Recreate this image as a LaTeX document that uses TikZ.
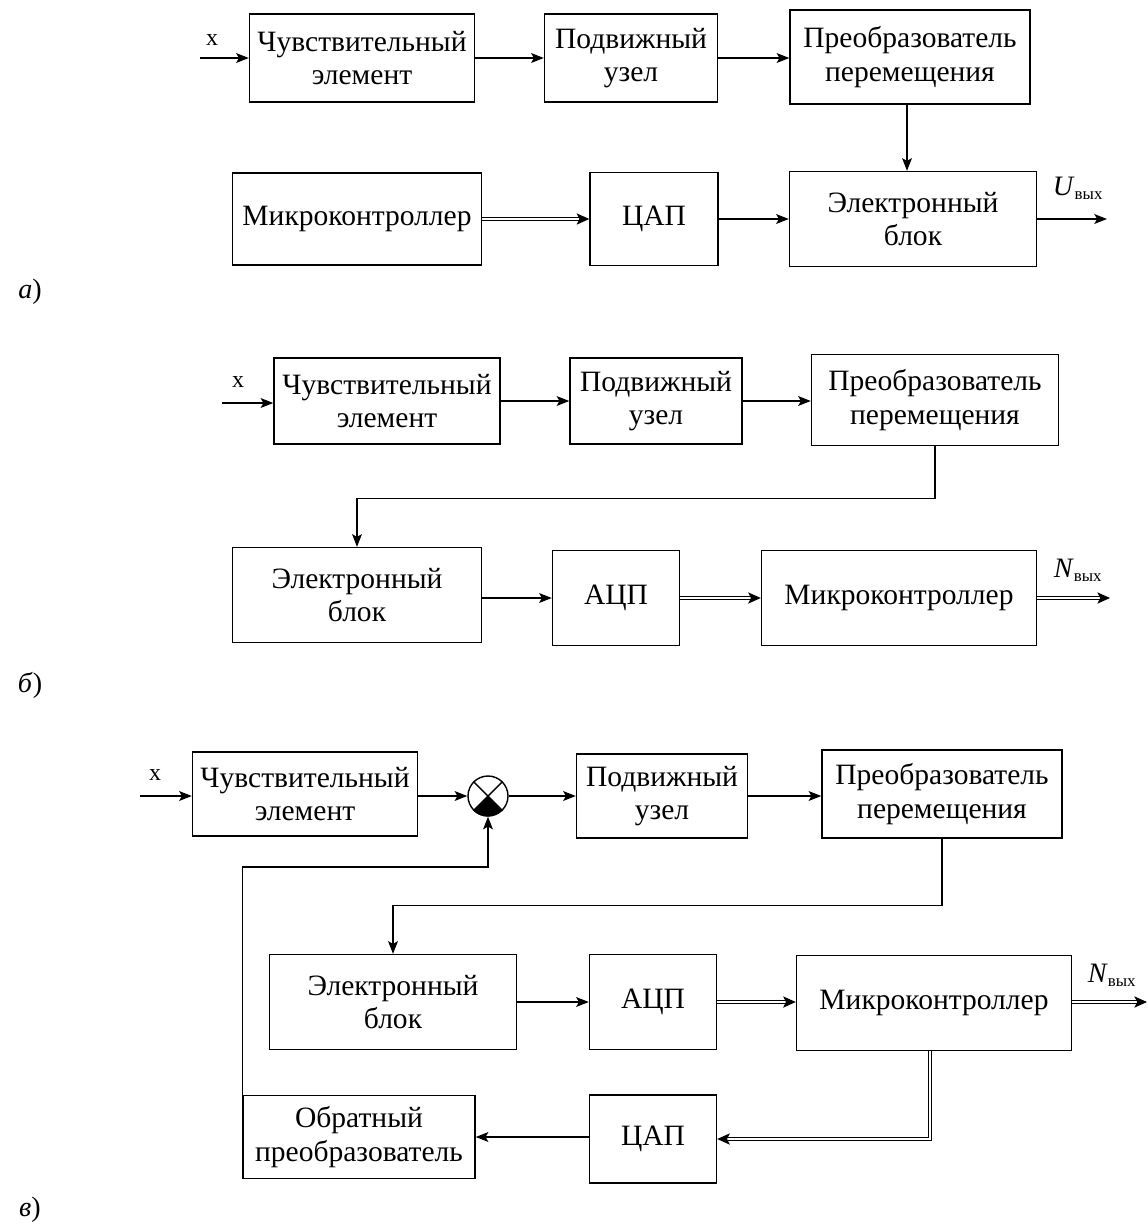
\documentclass[tikz,border=0pt]{standalone}
\usepackage{fontspec}
\setmainfont{Liberation Serif}
\usepackage{tikz}
\usetikzlibrary{arrows.meta}

\begin{document}
\begin{tikzpicture}[
        x=0.025cm, y=-0.025cm,
        blk/.style={draw, line width=1pt, align=center, inner sep=0pt, font=\fontsize{21}{24}\selectfont}, % block
        sz/.style 2 args={minimum width=#1*0.025cm, minimum height=#2*0.025cm}, % block size in px
        sig/.style={line width=1pt, -{Stealth[length=9pt, width=7pt, inset=2pt]}}, % single line
        dsig/.style={double, double distance=1.6pt, line width=0.8pt, -{Stealth[length=9pt, width=8pt, inset=2pt]}}, % double line
        lbl/.style={font=\fontsize{20}{24}\selectfont}
        ]
    \useasboundingbox (0,0) rectangle (1147,1225);
    \newcommand{\vyh}{\textsubscript{\fontsize{12}{12}\selectfont вых}}

    % a)
    \node[blk, sz={225}{88}] (a1) at (362,58) {Чувствительный\\элемент};
    \node[blk, sz={173}{88}] (a2) at (631,58) {Подвижный\\узел};
    \node[blk, sz={240}{94}] (a3) at (910,57) {Преобразователь\\перемещения};
    \node[blk, sz={249}{92}] (a4) at (357,219) {Микроконтроллер};
    \node[blk, sz={128}{93}] (a5) at (654,219) {ЦАП};
    \node[blk, sz={247}{95}] (a6) at (913,219) {Электронный\\блок};
    \coordinate (ain) at (200,58);
    \coordinate (aout) at (1107,219);
    \node[lbl, font=\fontsize{17}{20}\selectfont] (ax) at (212,40) {x};
    \node[lbl] (au) at (1078,188) {\textit{U}\vyh};
    \node[lbl] (alab) at (30,292) {\textit{а})};
    \draw[sig] (ain) -- (a1);
    \draw[sig] (a1) -- (a2);
    \draw[sig] (a2) -- (a3.west |- a2);
    \draw[sig] (a3.south -| 907,0) -- (a6.north -| 907,0);
    \draw[dsig] (a4) -- (a5);
    \draw[sig] (a5) -- (a6);
    \draw[sig] (a6) -- (aout);

    % b)
    \node[blk, sz={226}{86}] (b1) at (387,401) {Чувствительный\\элемент};
    \node[blk, sz={172}{86}] (b2) at (656,401) {Подвижный\\узел};
    \node[blk, sz={247}{91}] (b3) at (935,400) {Преобразователь\\перемещения};
    \node[blk, sz={249}{95}] (b4) at (357,595) {Электронный\\блок};
    \node[blk, sz={127}{95}] (b5) at (616,598) {АЦП};
    \node[blk, sz={275}{95}] (b6) at (899,598) {Микроконтроллер};
    \coordinate (bin) at (222,403);
    \coordinate (bout) at (1110,598);
    \node[lbl, font=\fontsize{17}{20}\selectfont] (bx) at (238,382) {x};
    \node[lbl] (bn) at (1078,570) {\textit{N}\vyh};
    \node[lbl] (blab) at (30,685) {\textit{б})};
    \draw[sig] (bin) -- (b1.west |- bin);
    \draw[sig] (b1) -- (b2);
    \draw[sig] (b2) -- (b3.west |- b2);
    \draw[sig] (b3.south) -- ++(0,52) -| (b4.north);
    \draw[sig] (b4.east |- b5) -- (b5);
    \draw[dsig] (b5) -- (b6);
    \draw[dsig] (b6) -- (bout);

    % v)
    \node[blk, sz={225}{84}] (c1) at (305,794) {Чувствительный\\элемент};
    \node[circle, draw, line width=1pt, minimum size=40*0.025cm, inner sep=0pt] (sum) at (488,796) {};
    \node[blk, sz={171}{84}] (c2) at (662,796) {Подвижный\\узел};
    \node[blk, sz={240}{88}] (c3) at (942,794) {Преобразователь\\перемещения};
    \node[blk, sz={247}{95}] (c4) at (393,1002) {Электронный\\блок};
    \node[blk, sz={127}{95}] (c5) at (653,1002) {АЦП};
    \node[blk, sz={275}{95}] (c6) at (934,1003) {Микроконтроллер};
    \node[blk, sz={127}{88}] (c7) at (653,1139) {ЦАП};
    \node[blk, sz={232}{83}] (c8) at (359,1137) {Обратный\\преобразователь};
    \coordinate (cin) at (140,796);
    \coordinate (cout) at (1147,1002);
    \node[lbl, font=\fontsize{17}{20}\selectfont] (cx) at (155,775) {x};
    \node[lbl] (cn) at (1112,975) {\textit{N}\vyh};
    \node[lbl] (clab) at (30,1210) {\textit{в})};
    % summing junction
    \fill (sum.center) -- (sum.-135) arc[start angle=-135, end angle=-45, radius=0.5cm] -- cycle;
    \draw[line width=1pt] (sum.45) -- (sum.-135) (sum.135) -- (sum.-45);
    \draw[sig] (cin) -- (c1.west |- cin);
    \draw[sig] (c1.east |- sum) -- (sum);
    \draw[sig] (sum) -- (c2);
    \draw[sig] (c2) -- (c3.west |- c2);
    \draw[sig] (c3.south) -- ++(0,67) -| (c4.north);
    \draw[sig] (c4) -- (c5);
    \draw[dsig] (c5) -- (c6.west |- c5);
    \draw[dsig] (c6.east |- c5) -- (cout);
    \draw[dsig] (c6.south -| 930,0) |- (c7.east);
    \draw[sig] (c7.west |- c8) -- (c8);
    \draw[sig] (c8.west) -- ++(0,-270) -| (sum.south);
\end{tikzpicture}
\end{document}
